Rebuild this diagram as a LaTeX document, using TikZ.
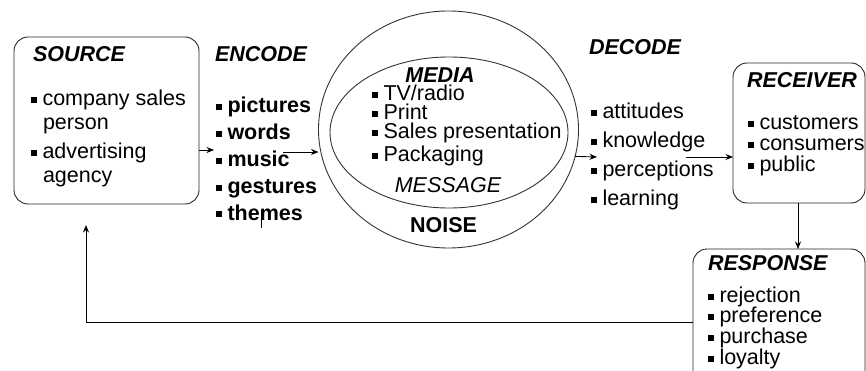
\documentclass[tikz,border=0pt]{standalone}
\usepackage{fontspec}
\setmainfont{Liberation Sans}
\usetikzlibrary{arrows.meta,shapes.geometric}

% small square bullet followed by a gap
\newcommand{\sqbul}{\rule[2.5pt]{6pt}{6pt}\hspace{5.5pt}}

\begin{document}
\begin{tikzpicture}[x=1pt,y=-1pt,
  every node/.style={inner sep=0pt, outer sep=0pt, font=\fontsize{21.5}{24}\selectfont},
  txt/.style={anchor=base west},
  boldtxt/.style={anchor=base west, font=\fontsize{21.5}{24}\selectfont\bfseries},
  head/.style={anchor=base west, font=\fontsize{21.5}{24}\selectfont\bfseries\itshape},
  box/.style={draw=black!85, line width=0.9pt, rounded corners=14pt, rectangle},
  ring/.style={draw=black!80, line width=0.9pt, ellipse},
  link/.style={draw=black, line width=0.9pt, -{Stealth[length=7.5pt,width=6pt]}}
]
\useasboundingbox (0,0) rectangle (866,371);

% ---- frames ----
\node[box, minimum width=185pt, minimum height=167pt] (source) at (106.5,120.5) {};
\node[box, minimum width=132pt, minimum height=140pt] (receiver) at (799,133) {};
\node[box, minimum width=172pt, minimum height=143pt] (response) at (779,320.5) {};
\node[ring, minimum width=260pt, minimum height=237pt] (noise) at (448.5,129.5) {};
\node[ring, minimum width=238pt, minimum height=151pt] (message) at (449,132.5) {};

% ---- source ----
\node[head] (srch) at (33,62) {SOURCE};
\node[txt] (src1) at (31,106) {\sqbul company sales};
\node[txt] (src1b) at (43,130) {person};
\node[txt] (src2) at (31,159) {\sqbul advertising};
\node[txt] (src2b) at (43,183) {agency};

% ---- encode ----
\node[head] (ench) at (215,62) {ENCODE};
\foreach \w [count=\i] in {pictures,words,music,gestures,themes}
  \node[boldtxt] (enc\i) at (216,{113+26.75*(\i-1)}) {\sqbul\w};
\draw[line width=0.8pt] (261,210) -- (261,228);

% ---- media / message / noise ----
\node[head, anchor=base] (media) at (440,83) {MEDIA};
\node[txt] (med1) at (372,101) {\sqbul TV/radio};
\node[txt] (med2) at (372,120) {\sqbul Print};
\node[txt] (med3) at (372,139) {\sqbul Sales presentation};
\node[txt] (med4) at (372,162) {\sqbul Packaging};
\node[anchor=base, font=\fontsize{21.5}{24}\selectfont\itshape] (msg) at (448,193) {MESSAGE};
\node[anchor=base, font=\fontsize{21.5}{24}\selectfont\bfseries] (noiselbl) at (443.5,233) {NOISE};

% ---- decode ----
\node[head] (dech) at (589,55) {DECODE};
\foreach \w [count=\i] in {attitudes,knowledge,perceptions,learning}
  \node[txt] (dec\i) at (591,{119+28.67*(\i-1)}) {\sqbul\w};

% ---- receiver ----
\node[head] (rech) at (747,88) {RECEIVER};
\foreach \w [count=\i] in {customers,consumers,public}
  \node[txt] (rec\i) at (748,{130+21*(\i-1)}) {\sqbul\w};

% ---- response ----
\node[head] (resh) at (708,270) {RESPONSE};
\foreach \w [count=\i] in {rejection,preference,purchase,loyalty}
  \node[txt] (res\i) at (708,{302+20.9*(\i-1)}) {\sqbul\w};

% ---- connectors ----
\coordinate (encin) at (214,150);
\coordinate (encout) at (283,152);
\coordinate (decin) at (597,157);
\coordinate (decout) at (686,157);
\coordinate (fbcorner) at (86,322);
\coordinate (fbend) at (86,225);

\draw[link] (source.east |- encin) -- (encin);
\draw[link] (encout) -- (noise.west |- encout);
\draw[link] (noise.348) -- (decin);
\draw[link] (decout) -- (receiver.west |- decout);
\draw[link] (receiver.south -| 798,0) -- (response.north -| 798,0);
\draw[link] (response.west |- fbcorner) -- (fbcorner) -- (fbend);
\end{tikzpicture}
\end{document}
